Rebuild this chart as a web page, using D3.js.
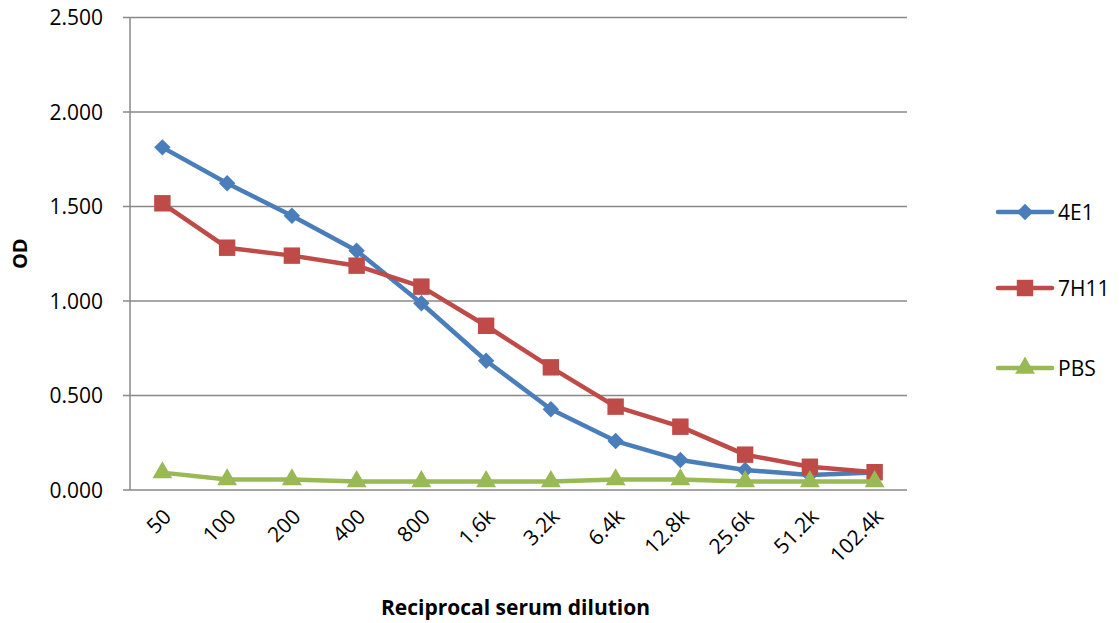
<!DOCTYPE html>
<html>
<head>
<meta charset="utf-8">
<script src="https://cdn.jsdelivr.net/npm/d3@7"></script>
<style>
  body { margin: 0; background: #fff; }
  svg { font-family: "Open Sans", sans-serif; }
</style>
</head>
<body>
<svg id="chart" width="1119" height="623"></svg>
<script>
const dilutions = ['50', '100', '200', '400', '800', '1.6k', '3.2k', '6.4k', '12.8k', '25.6k', '51.2k', '102.4k'];
const od4E1 = [1.813, 1.623, 1.451, 1.266, 0.988, 0.684, 0.427, 0.259, 0.159, 0.106, 0.079, 0.092];
const od7H11 = [1.517, 1.282, 1.240, 1.187, 1.076, 0.869, 0.649, 0.441, 0.335, 0.187, 0.123, 0.094];
const odPBS = [0.092, 0.055, 0.055, 0.045, 0.045, 0.045, 0.045, 0.055, 0.055, 0.045, 0.045, 0.045];
const yTicks = [0, 0.5, 1, 1.5, 2, 2.5];

// rotate: 45 turns a square into Excel's diamond
const series = [
  {name: '4E1', values: od4E1, color: '#4A7EBB', symbol: d3.symbolSquare, size: 135, rotate: 45},
  {name: '7H11', values: od7H11, color: '#BE4B48', symbol: d3.symbolSquare, size: 270, rotate: 0},
  {name: 'PBS', values: odPBS, color: '#98B954', symbol: d3.symbolTriangle, size: 170, rotate: 0}
];

const svg = d3.select('svg#chart');
const margin = {top: 17.5, right: 212, bottom: 133, left: 130};
const width = +svg.attr('width') - margin.left - margin.right;
const height = +svg.attr('height') - margin.top - margin.bottom;
const g = svg.append('g').attr('transform', `translate(${margin.left},${margin.top})`);

const x = d3.scaleBand().domain(dilutions).range([0, width]);
const y = d3.scaleLinear().domain([0, 2.5]).range([height, 0]);

// gridlines
g.append('g')
  .selectAll('line')
  .data(yTicks)
  .join('line')
  .attr('x1', -7).attr('x2', width)
  .attr('y1', d => y(d)).attr('y2', d => y(d))
  .attr('stroke', '#888').attr('stroke-width', 1.5);

// y axis line + labels
g.append('line')
  .attr('x1', 0).attr('x2', 0).attr('y1', 0).attr('y2', height)
  .attr('stroke', '#888').attr('stroke-width', 1.5);

g.append('g')
  .selectAll('text')
  .data(yTicks)
  .join('text')
  .attr('x', -27).attr('y', d => y(d))
  .attr('dy', '0.36em')
  .attr('text-anchor', 'end')
  .attr('font-size', 21)
  .attr('fill', '#000')
  .text(d3.format('.3f'));

// x labels rotated
g.append('g')
  .selectAll('text')
  .data(dilutions)
  .join('text')
  .attr('text-anchor', 'end')
  .attr('font-size', 21)
  .attr('fill', '#000')
  .attr('transform', d => `translate(${x(d) + x.bandwidth() / 2 + 10},${height + 28}) rotate(-45)`)
  .text(d => d);

// lines and markers
const line = d3.line()
  .x((d, i) => x(dilutions[i]) + x.bandwidth() / 2)
  .y(d => y(d));

series.forEach(s => {
  g.append('path')
    .datum(s.values)
    .attr('fill', 'none')
    .attr('stroke', s.color)
    .attr('stroke-width', 4.5)
    .attr('stroke-linejoin', 'round')
    .attr('d', line);
  g.append('g')
    .selectAll('path')
    .data(s.values)
    .join('path')
    .attr('d', d3.symbol().type(s.symbol).size(s.size))
    .attr('fill', s.color)
    .attr('transform', (d, i) => `translate(${x(dilutions[i]) + x.bandwidth() / 2},${y(d)}) rotate(${s.rotate})`);
});

// axis titles
svg.append('text')
  .attr('x', margin.left + width / 2 - 3).attr('y', 615)
  .attr('text-anchor', 'middle')
  .attr('font-size', 21).attr('font-weight', 'bold')
  .text('Reciprocal serum dilution');

svg.append('text')
  .attr('transform', `translate(27,${margin.top + height / 2}) rotate(-90)`)
  .attr('text-anchor', 'middle')
  .attr('font-size', 20).attr('font-weight', 'bold')
  .text('OD');

// legend
const legendY = [212, 288, 368];
const legend = svg.append('g')
  .selectAll('g')
  .data(series)
  .join('g')
  .attr('transform', (d, i) => `translate(998,${legendY[i]})`);

legend.append('line')
  .attr('x1', 0).attr('x2', 54)
  .attr('stroke', d => d.color).attr('stroke-width', 4.5)
  .attr('stroke-linecap', 'round');
legend.append('path')
  .attr('d', d => d3.symbol().type(d.symbol).size(d.size)())
  .attr('fill', d => d.color)
  .attr('transform', d => `translate(27,0) rotate(${d.rotate})`);
legend.append('text')
  .attr('x', 60).attr('dy', '0.36em')
  .attr('font-size', 21)
  .text(d => d.name);
</script>
</body>
</html>
